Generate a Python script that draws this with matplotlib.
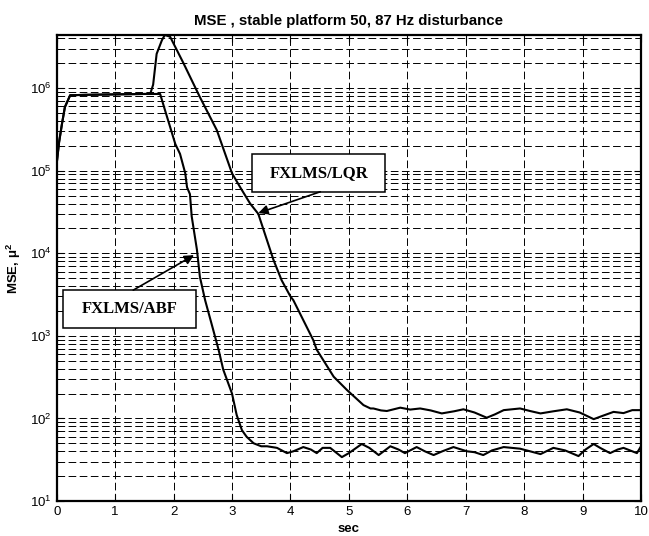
import matplotlib
matplotlib.use("Agg")
import matplotlib.pyplot as plt
from matplotlib.patches import Rectangle
from matplotlib.ticker import LogLocator, MultipleLocator

plt.rcParams['font.family'] = ['Liberation Sans', 'DejaVu Sans']
plt.rcParams['mathtext.fontset'] = 'custom'
plt.rcParams['mathtext.rm'] = 'Liberation Sans'
plt.rcParams['mathtext.bf'] = 'Liberation Sans:bold'
plt.rcParams['lines.scale_dashes'] = False

# shared start-up part (both controllers)
t_start = [0, 0.04, 0.09, 0.14, 0.23, 0.5, 1.0, 1.5, 1.6]
mse_start = [1.23e5, 2.2e5, 3.7e5, 5.9e5, 8.2e5, 8.3e5, 8.4e5, 8.5e5, 8.5e5]

# FXLMS/ABF
t_abf = [1.77, 1.85, 1.94, 2.03, 2.11, 2.2, 2.23, 2.28, 2.31, 2.40, 2.45, 2.54,
         2.65, 2.77, 2.85, 3.0, 3.08, 3.17, 3.25, 3.37, 3.5, 3.6, 3.77, 3.94,
         4.05, 4.22, 4.35, 4.45, 4.55, 4.68, 4.88, 5.0, 5.22, 5.35, 5.51, 5.71,
         5.85, 5.96, 6.16, 6.3, 6.45, 6.6, 6.79, 7.02, 7.15, 7.30, 7.45, 7.65,
         7.93, 8.1, 8.28, 8.5, 8.7, 8.93, 9.05, 9.19, 9.3, 9.47, 9.6, 9.70,
         9.85, 9.93, 10.0]
mse_abf = [8.5e5, 5.5e5, 3.4e5, 2.1e5, 1.6e5, 9.3e4, 6.3e4, 5.2e4, 2.8e4, 1.1e4,
           5.2e3, 2.7e3, 1.4e3, 680, 390, 200, 110, 72, 60, 50, 46, 46, 44, 38,
           40, 45, 42, 38, 44, 44, 34, 38, 49, 44, 36, 46, 42, 38, 45, 40, 36,
           40, 45, 40, 39, 36, 41, 45, 43, 40, 37, 44, 41, 35, 42, 49, 44, 38,
           42, 44, 40, 38, 46]

# FXLMS/LQR
t_lqr = [1.65, 1.71, 1.80, 1.85, 1.94, 2.17, 2.45, 2.74, 3.0, 3.14, 3.31, 3.45,
         3.71, 3.85, 4.0, 4.05, 4.39, 4.45, 4.74, 4.97, 5.25, 5.37, 5.42, 5.55,
         5.65, 5.88, 6.05, 6.22, 6.4, 6.59, 6.8, 6.96, 7.15, 7.36, 7.5, 7.65,
         7.93, 8.1, 8.28, 8.5, 8.73, 8.95, 9.19, 9.35, 9.53, 9.7, 9.85, 10.0]
mse_lqr = [1.1e6, 2.6e6, 3.8e6, 4.4e6, 4.2e6, 2.0e6, 7.8e5, 3.1e5, 9.3e4, 6.3e4,
           4.0e4, 3.0e4, 8.3e3, 4.7e3, 3.0e3, 2.7e3, 890, 680, 320, 220, 145,
           132, 132, 125, 123, 135, 128, 132, 125, 115, 122, 129, 118, 102, 112,
           126, 132, 123, 115, 122, 129, 118, 98, 108, 120, 116, 126, 126]

fig = plt.figure(figsize=(6.49, 5.36), dpi=100)
ax = fig.add_axes([0.0874, 0.0653, 0.9003, 0.8694])

ax.semilogy(t_start + t_abf, mse_start + mse_abf, color='black', lw=1.5)
ax.semilogy(t_start + t_lqr, mse_start + mse_lqr, color='black', lw=1.5)

ax.set_xlim(0, 10)
ax.set_ylim(10, 4.4e6)
ax.xaxis.set_major_locator(MultipleLocator(1))
ax.yaxis.set_major_locator(LogLocator(base=10, numticks=10))
ax.yaxis.set_minor_locator(LogLocator(base=10, subs=range(2, 10), numticks=20))

ax.grid(True, which='major', axis='x', color='black', lw=0.7, linestyle=(0, (5.5, 2.5)))
ax.grid(True, which='both', axis='y', color='black', lw=0.7, linestyle=(0, (5.5, 2.5)))
ax.tick_params(which='both', direction='in', top=True, right=True, labelsize=9.5)
ax.tick_params(which='major', length=5)
ax.tick_params(which='minor', length=3)
for s in ax.spines.values():
    s.set_linewidth(1.6)

ax.set_title('MSE , stable platform 50, 87 Hz disturbance', fontsize=10.8,
             fontweight='bold', pad=7)
ax.set_xlabel('sec', fontsize=9.5, fontweight='bold', labelpad=4)
ax.set_ylabel('MSE, μ$^{\\mathbf{2}}$', fontsize=9.5, fontweight='bold', labelpad=5)

# annotation boxes (axes fraction)
for x0, y0, label in [(0.3348, 0.6637, 'FXLMS/LQR'), (0.0103, 0.3719, 'FXLMS/ABF')]:
    ax.add_patch(Rectangle((x0, y0), 0.2276, 0.0818, transform=ax.transAxes,
                           facecolor='white', edgecolor='black', lw=1.1, zorder=5))
    ax.text(x0 + 0.1138, y0 + 0.0409, label, transform=ax.transAxes,
            fontsize=12, fontweight='bold', family='Liberation Serif',
            ha='center', va='center', zorder=6)

arrow = dict(arrowstyle='-|>', color='black', lw=1.2, mutation_scale=14, shrinkA=0, shrinkB=0)
ax.annotate('', xy=(3.45, 3.07e4), xytext=(4.51, 5.56e4), arrowprops=arrow, zorder=6)
ax.annotate('', xy=(2.35, 9.5e3), xytext=(1.31, 3.58e3), arrowprops=arrow, zorder=6)

fig.savefig('out.png', dpi=100)
